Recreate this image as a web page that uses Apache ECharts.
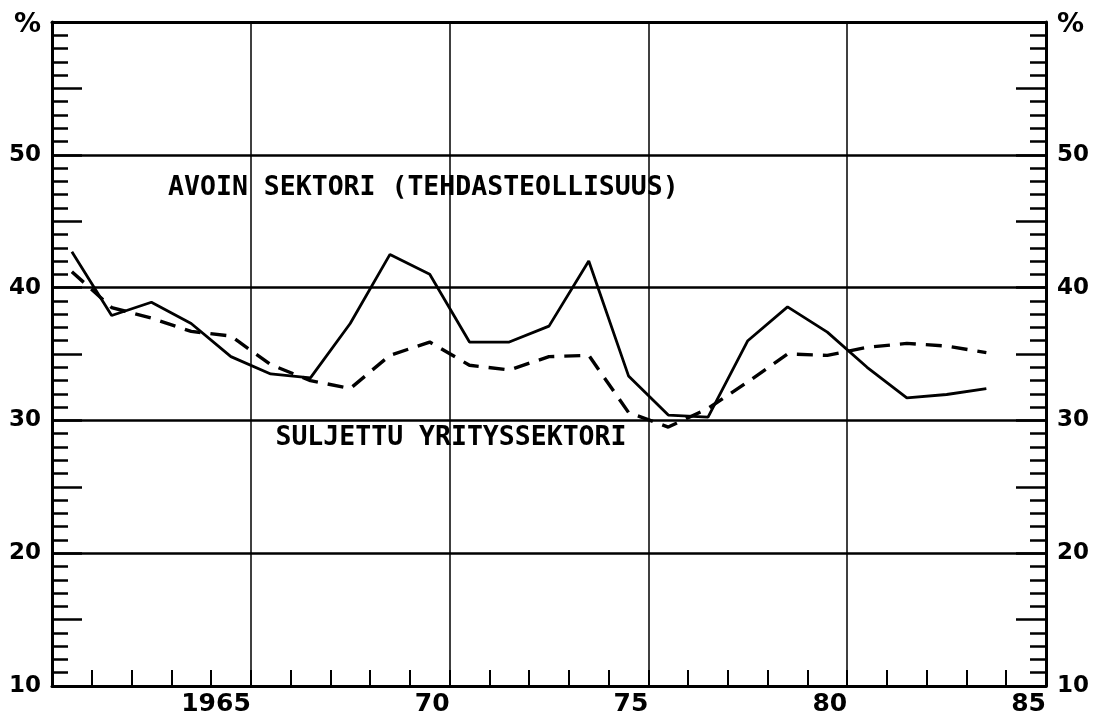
<!DOCTYPE html>
<html><head><meta charset="utf-8">
<script src="https://cdn.jsdelivr.net/npm/echarts@6/dist/echarts.min.js"></script>
<style>html,body{margin:0;padding:0;background:#fff}#c{width:1094px;height:719px}</style>
</head><body><div id="c"></div>
<script>
// ---- data ----
const years = [1961,1962,1963,1964,1965,1966,1967,1968,1969,1970,1971,1972,1973,1974,1975,1976,1977,1978,1979,1980,1981,1982,1983,1984];
const avoinSektori = [42.7,37.9,38.9,37.3,34.8,33.5,33.2,37.3,42.5,41.0,35.9,35.9,37.1,42.0,33.35,30.4,30.25,36.0,38.55,36.65,34.0,31.7,31.95,32.4];
const suljettuSektori = [41.2,38.5,37.7,36.7,36.35,34.2,33.0,32.4,34.9,35.9,34.15,33.8,34.8,34.9,30.6,29.5,30.9,32.9,35.0,34.9,35.5,35.8,35.6,35.1];
const xLabelValues = [1965,1970,1975,1980,1985];
const xLabelTexts = ['1965','70','75','80','85'];
const yLabelValues = [10,20,30,40,50,60];
const yLabelTexts = ['10','20','30','40','50','%'];
const annotationTexts = ['AVOIN SEKTORI (TEHDASTEOLLISUUS)','SULJETTU YRITYSSEKTORI'];
const annotationAnchors = [[1962.92,47.5],[1965.62,28.7]];

// ---- chart ----
const X_MIN = 1960, X_MAX = 1985, Y_MIN = 10, Y_MAX = 60;
const chart = echarts.init(document.getElementById('c'), null, {renderer:'canvas'});

function xLabel(v){ const i = xLabelValues.indexOf(v); return i>=0 ? xLabelTexts[i] : ''; }
function yLabel(v){
  const i = yLabelValues.indexOf(v);
  if (i < 0) return '';
  const t = yLabelTexts[i];
  return t === '%' ? '{p|' + t + '}' : t;
}

function hiddenAxis(type, position, interval, len, width){
  return {type:'value', position, min: type==='x'?X_MIN:Y_MIN, max: type==='x'?X_MAX:Y_MAX, interval,
    axisLine:{show:false}, axisLabel:{show:false}, splitLine:{show:false},
    axisTick:{show:true, inside:true, length:len, lineStyle:{color:'#000', width}}};
}

const xAxes = [
  {type:'value', position:'bottom', min:X_MIN, max:X_MAX, interval:5,
   axisLine:{show:true, lineStyle:{color:'#000', width:3}},
   axisTick:{show:false},
   axisLabel:{formatter:xLabel, align:'right', margin:6, showMinLabel:true, showMaxLabel:true,
     fontFamily:'DejaVu Sans', fontSize:25, fontWeight:'bold', color:'#000'},
   splitLine:{show:true, lineStyle:{color:'#000', width:1.5}}},
  hiddenAxis('x','bottom',1,16,2),
  {type:'value', position:'top', min:X_MIN, max:X_MAX, axisLine:{show:true, lineStyle:{color:'#000', width:3}},
   axisTick:{show:false}, axisLabel:{show:false}, splitLine:{show:false}}
];
function mainY(position){
  return {type:'value', position, min:Y_MIN, max:Y_MAX, interval:10,
   axisLine:{show:true, lineStyle:{color:'#000', width:3}},
   axisTick:{show:false},
   axisLabel:{formatter:yLabel, margin:11, fontFamily:'DejaVu Sans', fontSize:23, fontWeight:'bold', color:'#000',
     rich:{p:{fontFamily:'DejaVu Sans', fontSize:27, fontWeight:'bold', color:'#000', padding:[6,0,0,0]}}},
   splitLine:{show:position==='left', lineStyle:{color:'#000', width:2.5}}};
}
const yAxes = [
  mainY('left'), hiddenAxis('y','left',1,16,2.5), hiddenAxis('y','left',5,30,2.5),
  mainY('right'), hiddenAxis('y','right',1,16,2.5), hiddenAxis('y','right',5,30,2.5)
];

chart.setOption({
  animation:false,
  backgroundColor:'#fff',
  grid:{left:52, right:48, top:22, bottom:33, containLabel:false},
  xAxis:xAxes,
  yAxis:yAxes,
  series:[
    {name:'Avoin sektori (tehdasteollisuus)', type:'line', xAxisIndex:0, yAxisIndex:0,
     data:years.map((y,i)=>[y-0.5, avoinSektori[i]]),
     showSymbol:false, lineStyle:{color:'#000', width:2.8, type:'solid'}, z:5},
    {name:'Suljettu yrityssektori', type:'line', xAxisIndex:0, yAxisIndex:0,
     data:years.map((y,i)=>[y-0.5, suljettuSektori[i]]),
     showSymbol:false, lineStyle:{color:'#000', width:3.4, type:[16,10]}, z:5}
  ]
});

const graphics = annotationTexts.map((t,i)=>{
  const p = chart.convertToPixel({xAxisIndex:0, yAxisIndex:0}, annotationAnchors[i]);
  return {type:'text', x:p[0], y:p[1], z:10,
    style:{text:t, fill:'#000', font:'bold 26.5px "DejaVu Sans Mono"', textAlign:'left', textVerticalAlign:'middle'}};
});
chart.setOption({graphic:graphics});
</script>
</body></html>
